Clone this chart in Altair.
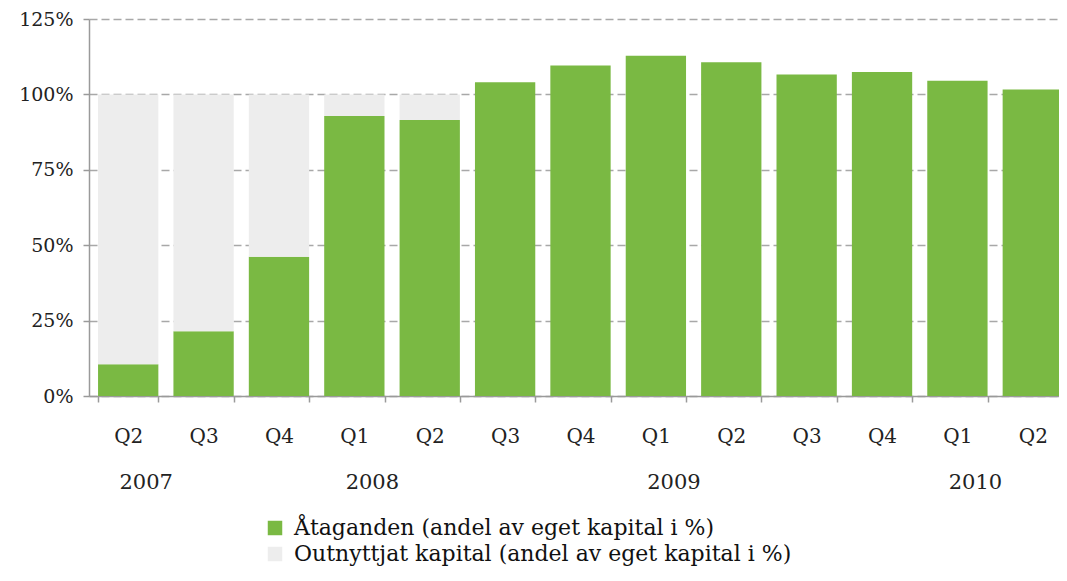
import altair as alt
import pandas as pd

quarters = ["Q2", "Q3", "Q4", "Q1", "Q2", "Q3", "Q4", "Q1", "Q2", "Q3", "Q4", "Q1", "Q2"]
years = ["2007", "2007", "2007", "2008", "2008", "2008", "2008", "2009", "2009", "2009", "2009", "2010", "2010"]
ataganden = [10.5, 21.5, 46.2, 92.8, 91.5, 104.0, 109.6, 112.8, 110.7, 106.6, 107.4, 104.5, 101.6]

year_label_keys = ["2007 Q2", "2008 Q1", "2009 Q1", "2010 Q1"]
year_label_text = ["2007", "2008", "2009", "2010"]

s1 = "Åtaganden (andel av eget kapital i %)"
s2 = "Outnyttjat kapital (andel av eget kapital i %)"

keys = [f"{y} {q}" for y, q in zip(years, quarters)]
outnyttjat = [max(0.0, 100.0 - v) for v in ataganden]

rows = []
for k, a, o in zip(keys, ataganden, outnyttjat):
    rows.append({"key": k, "serie": s1, "value": a, "ord": 0})
    rows.append({"key": k, "serie": s2, "value": o, "ord": 1})
df = pd.DataFrame(rows)
ydf = pd.DataFrame({"key": year_label_keys, "label": year_label_text})

FONT = "DejaVu Serif"
FS = 19
W, H = 970, 377

xscale = alt.Scale(domain=keys, range=[0, 983], paddingInner=0.2, paddingOuter=0.12)

bars = alt.Chart(df).mark_bar().encode(
    x=alt.X("key:N", scale=xscale, sort=keys, title=None,
            axis=alt.Axis(labelExpr="split(datum.value, ' ')[1]", labelAngle=0,
                          tickBand="extent", domainColor="#9a9a9a", domainWidth=1.5,
                          tickColor="#9a9a9a", tickWidth=1.5, tickSize=6,
                          labelPadding=24, labelFont=FONT, labelFontSize=20,
                          labelColor="#222222", grid=False)),
    y=alt.Y("value:Q", stack="zero", title=None,
            scale=alt.Scale(domain=[0, 125], nice=False),
            axis=alt.Axis(values=[0, 25, 50, 75, 100, 125],
                          labelExpr="datum.value + '%'",
                          domainColor="#9a9a9a", domainWidth=1.5,
                          tickColor="#9a9a9a", tickWidth=1.5, tickSize=6,
                          labelPadding=10, labelFont=FONT, labelFontSize=FS,
                          labelColor="#222222",
                          grid=True, gridColor="#a8a8a8", gridDash=[8, 4], gridWidth=1.5)),
    color=alt.Color("serie:N", scale=alt.Scale(domain=[s1, s2], range=["#7ab943", "#ededed"]),
                    sort=[s1, s2],
                    legend=alt.Legend(title=None, orient="none", legendX=175, legendY=498,
                                      direction="vertical", symbolType="square",
                                      symbolSize=210, symbolStrokeWidth=0,
                                      labelFont=FONT, labelFontSize=22, labelColor="#111111",
                                      labelLimit=0, rowPadding=4, labelOffset=8)),
    order=alt.Order("ord:Q"),
)

year_text = alt.Chart(ydf).mark_text(font=FONT, fontSize=21, color="#222222", dx=18, baseline="middle").encode(
    x=alt.X("key:N", scale=xscale, sort=keys),
    y=alt.value(H + 87),
    text="label:N",
)

chart = alt.layer(bars, year_text).properties(
    width=W, height=H,
    autosize=alt.AutoSizeParams(type="none"),
    padding={"left": 81, "top": 11, "right": 0, "bottom": 177},
).configure_view(stroke=None)

chart.save("out.html", embed_options={"renderer": "svg", "actions": False})
